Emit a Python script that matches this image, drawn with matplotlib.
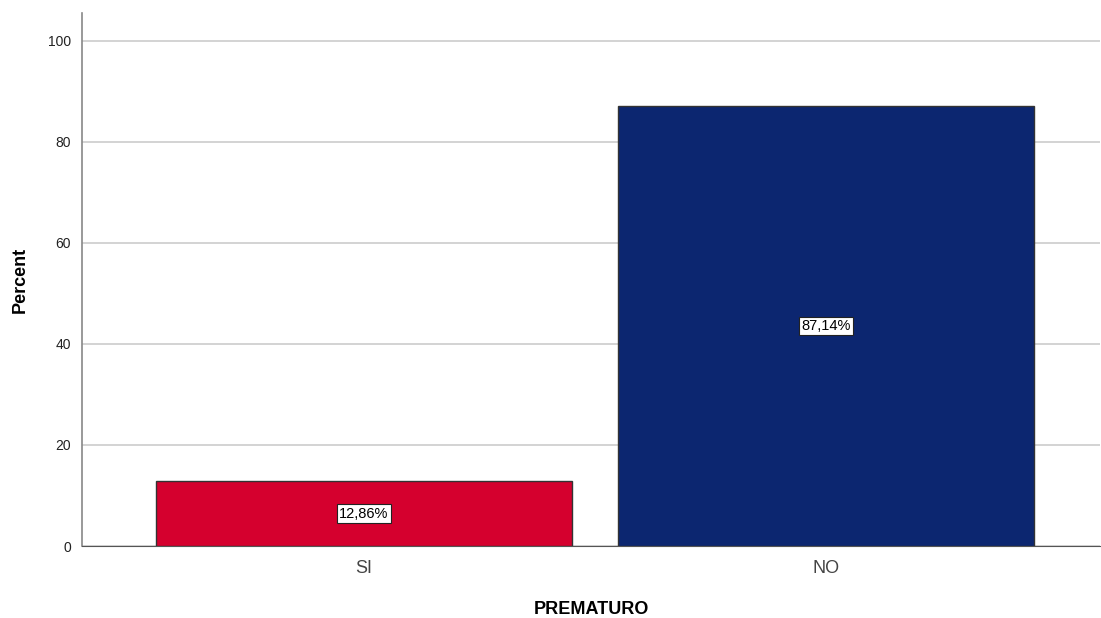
import matplotlib
matplotlib.use("Agg")
import matplotlib.pyplot as plt

categories = ["SI", "NO"]
percents = [12.86, 87.14]
labels = ["12,86%", "87,14%"]
yticks = [0, 20, 40, 60, 80, 100]
colors = ["#d5002e", "#0c2670"]

plt.rcParams['font.family'] = ['Liberation Sans', 'DejaVu Sans']

fig = plt.figure(figsize=(11.01, 6.18), dpi=100)
ax = fig.add_axes([82/1101, 1-546/618, 1018/1101, 533/618])

x = list(range(len(categories)))
ax.bar(x, percents, width=0.9, color=colors, edgecolor="#333333", linewidth=1.0, zorder=3)
for xi, p, lab in zip(x, percents, labels):
    ax.text(xi, p/2, lab, ha="center", va="center", fontsize=10.5, color="black", zorder=4,
            bbox=dict(boxstyle="square,pad=0.15", facecolor="white", edgecolor="#222222", linewidth=0.8))

ax.set_xlim(-0.61, 1.593)
ax.set_ylim(0, 105.5)
ax.set_yticks(yticks)
ax.set_yticklabels([str(t) for t in yticks], fontsize=10, color="#222222")
ax.set_xticks(x)
ax.set_xticklabels(categories, fontsize=13, color="#444444")
ax.yaxis.grid(True, color="#cccccc", linewidth=1.2, zorder=0)
ax.set_axisbelow(True)
for s in ["top", "right"]:
    ax.spines[s].set_visible(False)
ax.spines["left"].set_color("#888888")
ax.spines["bottom"].set_color("#555555")
ax.spines["left"].set_linewidth(1.2)
ax.tick_params(axis="x", length=0, pad=10)
ax.tick_params(axis="y", length=0, pad=8)
ax.set_ylabel("Percent", fontsize=13, fontweight="bold", labelpad=14)
ax.set_xlabel("PREMATURO", fontsize=13, fontweight="bold", labelpad=17)

fig.savefig("out.png", dpi=100)
